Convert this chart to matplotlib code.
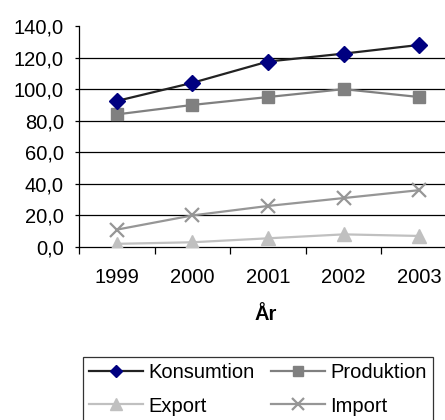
import matplotlib
matplotlib.use("Agg")
import matplotlib.pyplot as plt
from matplotlib.ticker import FuncFormatter

plt.rcParams['font.family'] = ['Liberation Sans', 'DejaVu Sans']

years = ['1999', '2000', '2001', '2002', '2003']
konsumtion = [92.5, 104.0, 117.5, 122.5, 128.0]
produktion = [84.0, 90.0, 95.0, 100.0, 95.0]
export = [2.0, 3.0, 5.5, 8.0, 7.0]
importv = [11.0, 20.0, 26.0, 31.0, 36.0]

fs = 14.5

fig = plt.figure(figsize=(4.45, 4.2), dpi=100)
ax = fig.add_axes([79/445, 1 - 247/420, 378/445, 221/420])

x = range(len(years))
l1, = ax.plot(x, konsumtion, color='#222222', lw=1.6, marker='D', ms=8,
              mfc='#000080', mec='#000080', label='Konsumtion', zorder=5)
l2, = ax.plot(x, produktion, color='#808080', lw=1.6, marker='s', ms=9,
              mfc='#808080', mec='#808080', label='Produktion', zorder=4)
l3, = ax.plot(x, export, color='#c0c0c0', lw=1.6, marker='^', ms=10,
              mfc='#c0c0c0', mec='#c0c0c0', label='Export', zorder=3)
l4, = ax.plot(x, importv, color='#969696', lw=1.6, marker='x', ms=10, mew=1.6,
              label='Import', zorder=3)

ax.set_xlim(-0.5, 4.5)
ax.set_ylim(0, 140)
ax.set_yticks(range(0, 141, 20))
ax.yaxis.set_major_formatter(FuncFormatter(lambda v, p: f"{v:.1f}".replace('.', ',')))
for v in range(20, 121, 20):
    ax.axhline(v, color='black', lw=0.9, zorder=1)

ax.set_xticks(x)
ax.set_xticklabels(years)
ax.set_xticks([i - 0.5 for i in range(6)], minor=True)
ax.tick_params(axis='x', which='major', length=0, pad=15, labelsize=fs)
ax.tick_params(axis='x', which='minor', length=5, width=0.9)
ax.tick_params(axis='y', length=3, width=0.9, labelsize=fs, pad=8)
ax.spines['top'].set_visible(False)
ax.spines['right'].set_visible(False)
ax.spines['left'].set_linewidth(0.9)
ax.spines['bottom'].set_linewidth(0.9)
ax.set_xlabel('År', fontsize=fs, fontweight='bold')
ax.xaxis.set_label_coords((266 - 79) / 378, -58 / 221)

# row-wise order: Konsumtion, Produktion / Export, Import
leg = fig.legend([l1, l3, l2, l4], ['Konsumtion', 'Export', 'Produktion', 'Import'],
                 loc='upper left', bbox_to_anchor=(83/445, 1 - 357/420), ncol=2,
                 fontsize=fs, frameon=True, fancybox=False, edgecolor='black',
                 borderaxespad=0, handlelength=2.7, handletextpad=0.25,
                 columnspacing=0.8, borderpad=0.3, labelspacing=0.72,
                 markerscale=0.8)
leg.get_frame().set_linewidth(0.9)

fig.savefig('out.png', dpi=100)
